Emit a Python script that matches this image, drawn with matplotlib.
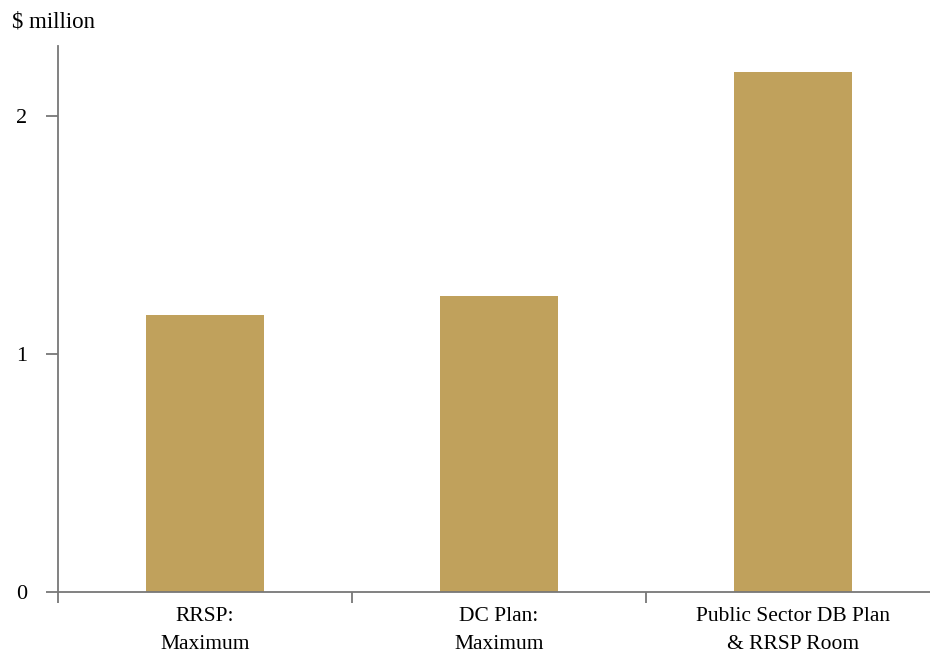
import matplotlib
matplotlib.use("Agg")
import matplotlib.pyplot as plt

# Values ($ million)
categories = ["RRSP:\nMaximum", "DC Plan:\nMaximum", "Public Sector DB Plan\n& RRSP Room"]
values = [1.164, 1.244, 2.185]
y_ticks = [0, 1, 2]

plt.rcParams["font.family"] = ["Liberation Serif", "DejaVu Serif"]

fig = plt.figure(figsize=(9.3, 6.58), dpi=100)
# axes run off the right edge like the original
ax = fig.add_axes([58 / 930, 66 / 658, 882 / 930, 546 / 658])

x = range(len(categories))
ax.bar(x, values, width=0.4, color="#C0A15C")

ax.set_xlim(-0.5, 2.5)
ax.set_ylim(0, 2.294)

axis_col = "#777777"
for side in ["top", "right"]:
    ax.spines[side].set_visible(False)
for side in ["left", "bottom"]:
    ax.spines[side].set_color(axis_col)
    ax.spines[side].set_linewidth(1.3)

ax.set_yticks(y_ticks)
ax.set_yticklabels([str(t) for t in y_ticks], fontsize=16)
ax.tick_params(axis="y", length=9, width=1.3, color=axis_col, pad=13)

# category labels in the middle, tick marks on the borders
ax.set_xticks(list(x))
ax.set_xticklabels(categories, fontsize=15.5, linespacing=1.65)
ax.tick_params(axis="x", which="major", length=0, pad=11)
ax.set_xticks([-0.5, 0.5, 1.5], minor=True)
ax.tick_params(axis="x", which="minor", length=8, width=1.3, color=axis_col)

fig.text(12 / 930, 1 - 22 / 658, "$ million", fontsize=16.5, va="center", ha="left")

fig.savefig("out.png", dpi=100)
